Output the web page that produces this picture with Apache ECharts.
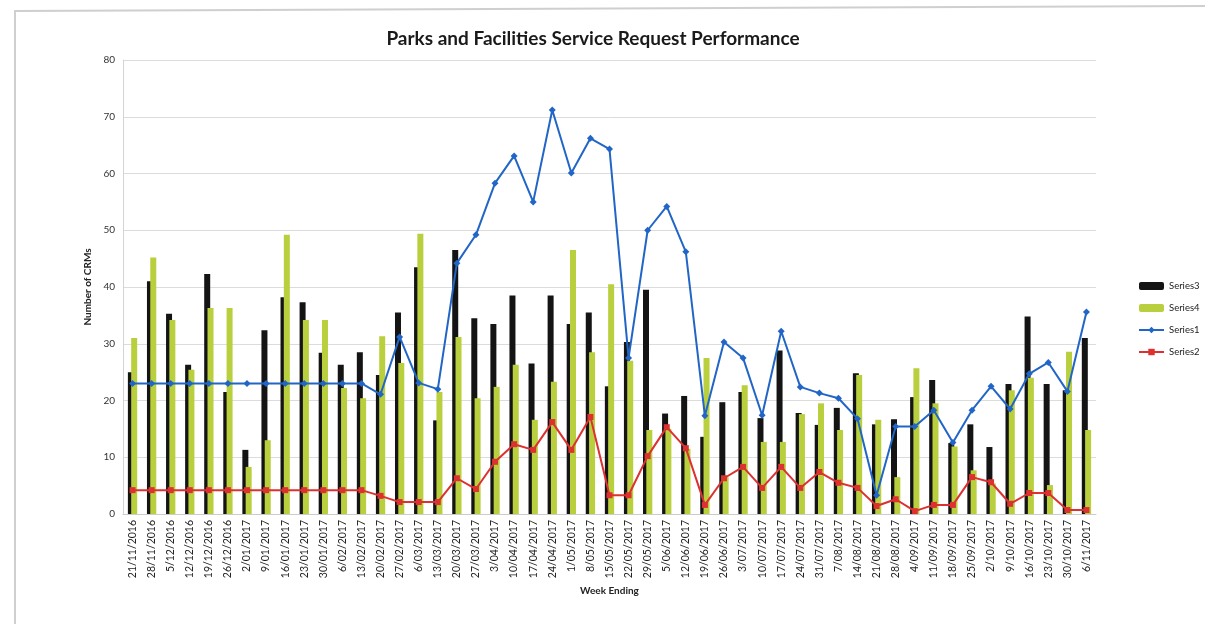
<!DOCTYPE html>
<html>
<head>
<meta charset="utf-8">
<title>Parks and Facilities Service Request Performance</title>
<script src="https://cdn.jsdelivr.net/npm/echarts@6/dist/echarts.min.js"></script>
<style>
  html, body { margin: 0; padding: 0; background: #ffffff; }
  #chart { width: 1205px; height: 624px; }
</style>
</head>
<body>
<div id="chart"></div>
<script>
// Week ending dates (category axis)
var weeks = [
  '21/11/2016','28/11/2016','5/12/2016','12/12/2016','19/12/2016','26/12/2016',
  '2/01/2017','9/01/2017','16/01/2017','23/01/2017','30/01/2017','6/02/2017',
  '13/02/2017','20/02/2017','27/02/2017','6/03/2017','13/03/2017','20/03/2017',
  '27/03/2017','3/04/2017','10/04/2017','17/04/2017','24/04/2017','1/05/2017',
  '8/05/2017','15/05/2017','22/05/2017','29/05/2017','5/06/2017','12/06/2017',
  '19/06/2017','26/06/2017','3/07/2017','10/07/2017','17/07/2017','24/07/2017',
  '31/07/2017','7/08/2017','14/08/2017','21/08/2017','28/08/2017','4/09/2017',
  '11/09/2017','18/09/2017','25/09/2017','2/10/2017','9/10/2017','16/10/2017',
  '23/10/2017','30/10/2017','6/11/2017'
];

// Series3 (black bars)
var series3 = [
  25, 41, 35.3, 26.3, 42.3, 21.5, 11.3, 32.4, 38.2, 37.3, 28.4, 26.3,
  28.5, 24.5, 35.5, 43.5, 16.5, 46.5, 34.5, 33.5, 38.5, 26.5, 38.5, 33.5,
  35.5, 22.5, 30.3, 39.5, 17.7, 20.8, 13.6, 19.7, 21.5, 16.9, 28.8, 17.8,
  15.7, 18.7, 24.8, 15.8, 16.7, 20.6, 23.6, 12.5, 15.8, 11.8, 22.9, 34.8,
  22.9, 21.8, 31
];

// Series4 (green bars)
var series4 = [
  31, 45.2, 34.2, 25.4, 36.3, 36.3, 8.3, 13, 49.2, 34.2, 34.2, 22.2,
  20.4, 31.3, 26.6, 49.4, 21.5, 31.2, 20.4, 22.4, 26.3, 16.6, 23.3, 46.5,
  28.5, 40.5, 27, 14.8, 15, 11.5, 27.5, 6.5, 22.7, 12.7, 12.7, 17.6,
  19.5, 14.8, 24.5, 16.6, 6.5, 25.7, 19.5, 11.9, 7.7, 5.4, 21.8, 24,
  5.1, 28.6, 14.8
];

// Series1 (blue line)
var series1 = [
  23, 23, 23, 23, 23, 23, 23, 23, 23, 23, 23, 23,
  23, 21.1, 31.2, 23.1, 22, 44.2, 49.2, 58.3, 63.1, 55, 71.2, 60.1,
  66.2, 64.3, 27.5, 50, 54.2, 46.2, 17.3, 30.3, 27.5, 17.4, 32.2, 22.4,
  21.3, 20.4, 16.8, 3.3, 15.4, 15.4, 18.3, 12.6, 18.3, 22.5, 18.5, 24.7,
  26.7, 21.6, 35.6
];

// Series2 (red line)
var series2 = [
  4.2, 4.2, 4.2, 4.2, 4.2, 4.2, 4.2, 4.2, 4.2, 4.2, 4.2, 4.2,
  4.2, 3.2, 2.1, 2.1, 2.1, 6.3, 4.4, 9.2, 12.3, 11.3, 16.2, 11.3,
  17.1, 3.3, 3.3, 10.2, 15.3, 11.6, 1.6, 6.3, 8.3, 4.6, 8.3, 4.6,
  7.4, 5.5, 4.6, 1.4, 2.6, 0.5, 1.6, 1.6, 6.5, 5.6, 1.8, 3.7,
  3.7, 0.7, 0.7
];

var FONT = 'Lato, "Open Sans", sans-serif';

var chart = echarts.init(document.getElementById('chart'), null, { renderer: 'canvas' });

chart.setOption({
  backgroundColor: '#ffffff',
  animation: false,
  title: {
    text: 'Parks and Facilities Service Request Performance',
    left: 588,
    top: 24,
    textAlign: 'center',
    textStyle: { fontFamily: FONT, fontSize: 19, fontWeight: 'bold', color: '#1a1a1a' }
  },
  graphic: [{
    type: 'polyline',
    shape: { points: [[15, 624], [15, 11], [1205, 6]] },
    style: { stroke: '#cfcfcf', lineWidth: 2, fill: null },
    silent: true
  }],
  legend: {
    orient: 'vertical',
    left: 1138,
    top: 281,
    padding: 0,
    itemWidth: 25,
    itemHeight: 8,
    itemGap: 12,
    textStyle: { fontFamily: FONT, fontSize: 9.5, color: '#222' },
    data: ['Series3', 'Series4', 'Series1', 'Series2']
  },
  grid: { left: 123, right: 109, top: 60, bottom: 110 },
  xAxis: {
    type: 'category',
    data: weeks,
    name: 'Week Ending',
    nameLocation: 'middle',
    nameGap: 71,
    nameTextStyle: { fontFamily: FONT, fontSize: 10, fontWeight: 'bold', color: '#222' },
    axisLine: { lineStyle: { color: '#cccccc' } },
    axisTick: { show: false },
    axisLabel: {
      interval: 0,
      rotate: 90,
      margin: 6,
      fontFamily: FONT,
      fontSize: 10.5,
      color: '#1e1e1e'
    }
  },
  yAxis: {
    type: 'value',
    min: 0,
    max: 80,
    interval: 10,
    name: 'Number of CRMs',
    nameLocation: 'middle',
    nameGap: 22,
    nameTextStyle: { fontFamily: FONT, fontSize: 10, fontWeight: 'bold', color: '#222' },
    axisLine: { show: true, lineStyle: { color: '#d4d4d4' } },
    axisTick: { show: false },
    axisLabel: { fontFamily: FONT, fontSize: 10, color: '#333', margin: 8 },
    splitLine: { lineStyle: { color: '#dcdcdc', width: 1 } }
  },
  series: [
    {
      name: 'Series3',
      type: 'bar',
      data: series3,
      barWidth: 6,
      barGap: '-45%',
      itemStyle: { color: '#141414' }
    },
    {
      name: 'Series4',
      type: 'bar',
      data: series4,
      barWidth: 6,
      barGap: '-45%',
      itemStyle: { color: '#b9cf3e' }
    },
    {
      name: 'Series1',
      type: 'line',
      data: series1,
      symbol: 'diamond',
      symbolSize: 7,
      lineStyle: { color: '#2166c6', width: 2 },
      itemStyle: { color: '#2166c6' },
      z: 5
    },
    {
      name: 'Series2',
      type: 'line',
      data: series2,
      symbol: 'rect',
      symbolSize: 6,
      lineStyle: { color: '#dd3030', width: 2 },
      itemStyle: { color: '#dd3030' },
      z: 4
    }
  ]
});
</script>
</body>
</html>
